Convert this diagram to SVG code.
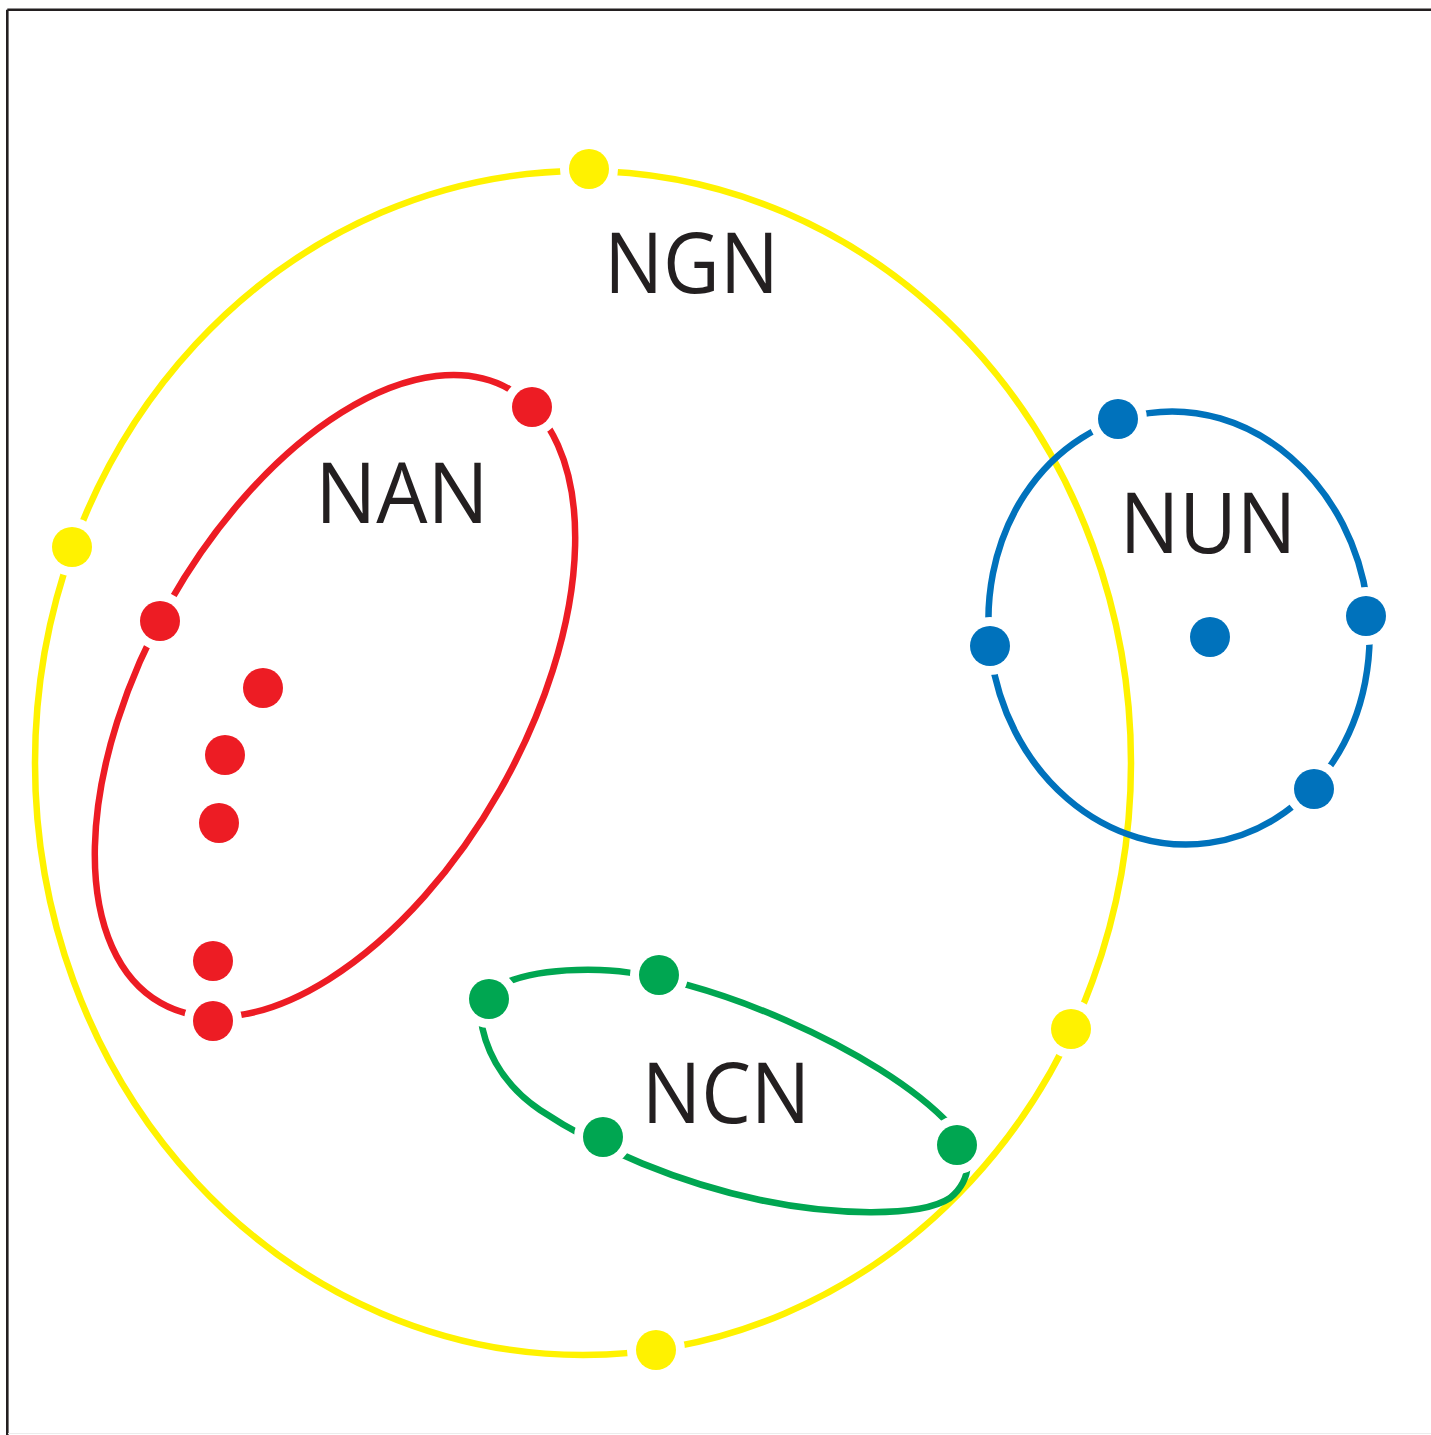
<svg xmlns="http://www.w3.org/2000/svg" width="1431" height="1435" viewBox="0 0 1431 1435">
<style>
.ring{fill:none;stroke-width:6.5}
.lbl{font-family:"Open Sans","Liberation Sans",sans-serif;font-size:84px;fill:#231f20;text-anchor:middle}
.dot{stroke:#ffffff;stroke-width:18;paint-order:stroke}
.y{stroke:#fff200}.yf{fill:#fff200}
.r{stroke:#ed1c24}.rf{fill:#ed1c24}
.b{stroke:#0072bc}.bf{fill:#0072bc}
.g{stroke:#00a651}.gf{fill:#00a651}
</style>
<rect width="1431" height="1435" fill="#ffffff"/>
<g id="frame" fill="none" stroke="#231f20" stroke-width="2.6">
<line x1="7.3" y1="9.7" x2="1431" y2="9.7"/>
<line x1="7.3" y1="9.7" x2="7.3" y2="1435"/>
<line x1="8" y1="1433.5" x2="1431" y2="1433.5" stroke="#ececec" stroke-width="1"/>
</g>
<g id="NGN">
<ellipse class="ring y" cx="583" cy="763" rx="548" ry="592"/>
<circle class="dot yf" cx="589" cy="169" r="20"/>
<circle class="dot yf" cx="72" cy="547" r="20"/>
<circle class="dot yf" cx="1071" cy="1029" r="20"/>
<circle class="dot yf" cx="656" cy="1350" r="20"/>
<text class="lbl" transform="translate(691.5 293) scale(0.93 1)">NGN</text>
</g>
<g id="NAN">
<ellipse class="ring r" cx="335" cy="696" rx="353" ry="190" transform="rotate(-60.4 335 696)"/>
<circle class="dot rf" cx="532" cy="407" r="20"/>
<circle class="dot rf" cx="160" cy="621" r="20"/>
<circle class="dot rf" cx="263" cy="688" r="20"/>
<circle class="dot rf" cx="225" cy="755" r="20"/>
<circle class="dot rf" cx="219" cy="823" r="20"/>
<circle class="dot rf" cx="213" cy="961" r="20"/>
<circle class="dot rf" cx="213" cy="1021" r="20"/>
<text class="lbl" transform="translate(402 523) scale(0.965 1)">NAN</text>
</g>
<g id="NUN">
<ellipse class="ring b" cx="1179" cy="628" rx="190" ry="217" transform="rotate(-8 1179 628)"/>
<circle class="dot bf" cx="1118" cy="419" r="20"/>
<circle class="dot bf" cx="990" cy="646" r="20"/>
<circle class="dot bf" cx="1366" cy="616" r="20"/>
<circle class="dot bf" cx="1314" cy="789" r="20"/>
<circle class="dot bf" cx="1210" cy="637" r="20"/>
<text class="lbl" transform="translate(1208 553) scale(0.94 1)">NUN</text>
</g>
<g id="NCN">
<path class="ring g" d="M480,1010 C478,985 530,968 600,970 C700,973 880,1050 950,1125 C975,1150 972,1180 950,1198 C920,1218 830,1215 760,1200 C680,1183 600,1150 540,1110 C500,1083 482,1045 480,1010 Z"/>
<circle class="dot gf" cx="489" cy="999" r="20"/>
<circle class="dot gf" cx="659" cy="975" r="20"/>
<circle class="dot gf" cx="957" cy="1145" r="20"/>
<circle class="dot gf" cx="603" cy="1137" r="20"/>
<text class="lbl" transform="translate(726 1123) scale(0.94 1)">NCN</text>
</g>
<g id="connectors"/>
</svg>
